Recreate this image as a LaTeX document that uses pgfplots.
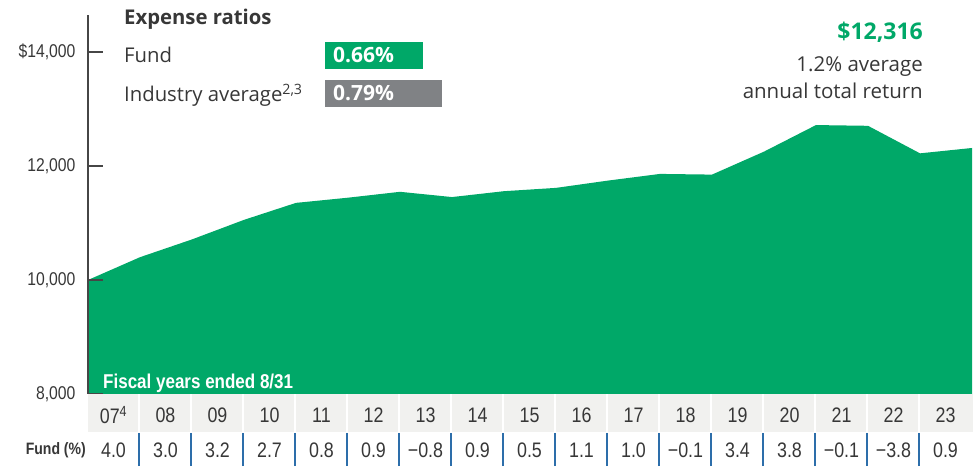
\documentclass[border=0pt]{standalone}
\usepackage{pgfplots}
\pgfplotsset{compat=1.18}
\usepackage{fontspec}
\setmainfont{Open Sans}
\newfontfamily\cond[FakeStretch=0.85]{Liberation Sans}
\definecolor{fundgreen}{RGB}{0,168,104}
\definecolor{boxgray}{RGB}{128,130,133}
\definecolor{bandgray}{RGB}{241,241,239}
\definecolor{sepblue}{RGB}{45,110,170}
\definecolor{txt}{RGB}{55,55,55}
\definecolor{axgray}{RGB}{70,70,70}
\begin{document}
\begin{tikzpicture}[x=1pt,y=1pt]
\path[use as bounding box] (0,0) rectangle (980,466);
\begin{axis}[
  at={(88pt,72pt)}, anchor=south west,
  scale only axis, width=884pt, height=379pt,
  xmin=0, xmax=17, ymin=8000, ymax=14649,
  axis x line=none, axis y line*=left,
  y axis line style={-, line width=1.3pt, color=axgray},
  ytick={8000,10000,12000,14000},
  yticklabels={{8,000},{10,000},{12,000},{\$14,000}},
  scaled y ticks=false,
  tick align=inside, major tick length=15pt,
  ytick style={line width=1.3pt, color=axgray},
  yticklabel style={font=\cond\fontsize{18.5}{18.5}\selectfont, text=txt, xshift=-9pt},
  axis on top,
]
\addplot[fill=fundgreen, draw=none] coordinates {
(0,10000) (1,10400) (2,10712) (3,11055) (4,11353) (5,11444) (6,11547)
(7,11455) (8,11558) (9,11616) (10,11744) (11,11861) (12,11849)
(13,12252) (14,12718) (15,12705) (16,12222) (17,12316)} \closedcycle;
\end{axis}
% table
\fill[bandgray] (88,34) rectangle (973,72);
\foreach \k in {1,...,16}{
  \draw[white, line width=1.2pt] ({87+52*\k},34) -- ({87+52*\k},72);
  \draw[sepblue, line width=1.4pt] ({87+52*\k},0) -- ({87+52*\k},33);
}
\foreach \yr [count=\j from 0] in {07\textsuperscript{4},08,09,10,11,12,13,14,15,16,17,18,19,20,21,22,23}{
  \node[font=\cond\fontsize{21}{21}\selectfont, text=txt, inner sep=0] at ({113.5+52*\j},51) {\yr};
}
\foreach \v [count=\j from 0] in {4.0,3.0,3.2,2.7,0.8,0.9,−0.8,0.9,0.5,1.1,1.0,−0.1,3.4,3.8,−0.1,−3.8,0.9}{
  \node[font=\cond\fontsize{21}{21}\selectfont, text=txt, inner sep=0] at ({113.5+52*\j},16) {\v};
}
\node[anchor=east, font=\cond\bfseries\fontsize{16.5}{16.5}\selectfont, text=txt, inner sep=0] at (86,16) {Fund (\%)};
\node[anchor=base west, font=\cond\bfseries\fontsize{20}{20}\selectfont, text=white, inner sep=0] at (103,77) {Fiscal years ended 8/31};
% expense ratios
\node[anchor=base west, font=\bfseries\fontsize{20.3}{20.3}\selectfont, text=txt, inner sep=0] at (124,441) {Expense ratios};
\node[anchor=base west, font=\fontsize{20.3}{20.3}\selectfont, text=txt, inner sep=0] at (124,403) {Fund};
\node[anchor=base west, font=\fontsize{20.3}{20.3}\selectfont, text=txt, inner sep=0] at (124,364) {Industry average\textsuperscript{2,3}};
\fill[fundgreen] (325,397) rectangle (423,424);
\fill[boxgray] (325,359) rectangle (442,386);
\node[anchor=base west, font=\bfseries\fontsize{21}{21}\selectfont, text=white, inner sep=0] at (333,403) {0.66\%};
\node[anchor=base west, font=\bfseries\fontsize{21}{21}\selectfont, text=white, inner sep=0] at (333,365) {0.79\%};
% right texts
\node[anchor=base east, font=\bfseries\fontsize{23}{23}\selectfont, text=fundgreen, inner sep=0] at (923,426) {\$12,316};
\node[anchor=base east, font=\fontsize{20.5}{20.5}\selectfont, text=txt, inner sep=0] at (923,394) {1.2\% average};
\node[anchor=base east, font=\fontsize{20.5}{20.5}\selectfont, text=txt, inner sep=0] at (923,367) {annual total return};
\end{tikzpicture}
\end{document}
